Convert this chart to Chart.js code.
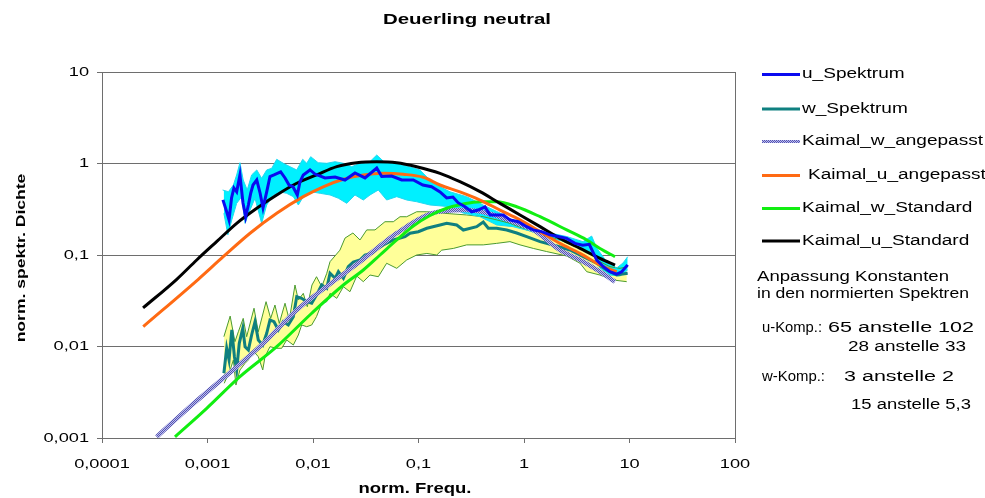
<!DOCTYPE html>
<html>
<head>
<meta charset="utf-8">
<script src="https://cdn.jsdelivr.net/npm/chart.js@4.4.1/dist/chart.umd.min.js"></script>
<style>
  html, body { margin: 0; padding: 0; background: #fff; overflow: hidden; }
  #wrap { width: 985px; height: 498px; }
</style>
</head>
<body>
<div id="wrap"><canvas id="c" width="985" height="498"></canvas></div>
<script>
// ======= DATEN =======
const xTicks = [0.0001, 0.001, 0.01, 0.1, 1, 10, 100];
const yTicks = [0.001, 0.01, 0.1, 1, 10];

// u_Spektrum
const uSpekX = [0.0014, 0.00152, 0.0016, 0.00169, 0.00178, 0.00189, 0.00203, 0.00217, 0.0023, 0.00244, 0.00257, 0.0027, 0.00293, 0.00315, 0.00336, 0.00364, 0.00391, 0.00427, 0.00494, 0.00543, 0.00593, 0.00646, 0.0071, 0.00753, 0.00809, 0.00937, 0.01045, 0.013, 0.0162, 0.0201, 0.025, 0.0311, 0.0402, 0.0448, 0.0557, 0.0693, 0.0893, 0.11, 0.133, 0.16, 0.185, 0.212, 0.237, 0.276, 0.319, 0.366, 0.427, 0.476, 0.637, 0.736, 0.883, 1.06, 1.22, 1.47, 1.76, 2.11, 2.54, 3.04, 3.6, 4.16, 4.89, 5.65, 6.53, 7.57, 8.43, 9.61];
const uSpekY = [0.40, 0.297, 0.242, 0.42, 0.54, 0.49, 0.75, 0.37, 0.262, 0.352, 0.476, 0.582, 0.66, 0.476, 0.327, 0.49, 0.72, 0.75, 0.81, 0.695, 0.582, 0.557, 0.453, 0.632, 0.75, 0.85, 0.767, 0.695, 0.711, 0.66, 0.787, 0.695, 0.893, 0.72, 0.73, 0.66, 0.66, 0.582, 0.557, 0.49, 0.42, 0.43, 0.373, 0.337, 0.297, 0.31, 0.335, 0.274, 0.274, 0.242, 0.231, 0.204, 0.188, 0.18, 0.166, 0.159, 0.152, 0.134, 0.128, 0.131, 0.088, 0.0745, 0.0656, 0.0619, 0.0656, 0.078];

// w_Spektrum
const wSpekX = [0.00143, 0.00152, 0.0016, 0.0017, 0.0018, 0.00189, 0.002, 0.00216, 0.00227, 0.00244, 0.00262, 0.00282, 0.00303, 0.00334, 0.00364, 0.00391, 0.00427, 0.00469, 0.00523, 0.00583, 0.00651, 0.00701, 0.00781, 0.00872, 0.00972, 0.0108, 0.0121, 0.0135, 0.0145, 0.0162, 0.0174, 0.0194, 0.0216, 0.0241, 0.0279, 0.0311, 0.036, 0.0416, 0.0464, 0.0577, 0.0745, 0.0831, 0.0996, 0.12, 0.16, 0.185, 0.23, 0.266, 0.356, 0.411, 0.459, 0.551, 0.686, 0.853, 1.06, 1.42, 2.04, 2.73, 3.65, 4.89, 6.08, 7.56, 9.61];
const wSpekY = [0.0051, 0.00956, 0.00712, 0.01515, 0.00774, 0.00554, 0.01084, 0.0158, 0.00995, 0.00916, 0.01336, 0.01866, 0.01178, 0.01038, 0.01394, 0.01948, 0.01866, 0.01515, 0.01866, 0.01718, 0.02117, 0.035, 0.0336, 0.0309, 0.0297, 0.0365, 0.047, 0.0433, 0.0631, 0.0556, 0.0657, 0.0556, 0.0745, 0.0838, 0.0882, 0.1, 0.1044, 0.1184, 0.1286, 0.1458, 0.1585, 0.1727, 0.1797, 0.1958, 0.2128, 0.222, 0.2128, 0.1876, 0.2038, 0.2295, 0.1958, 0.1958, 0.1876, 0.174, 0.1585, 0.1398, 0.1254, 0.1134, 0.0958, 0.0812, 0.0686, 0.0604, 0.0631];

// Streubereich u (cyan)
const uObenX = [0.00139, 0.00158, 0.00176, 0.00189, 0.00203, 0.00218, 0.00238, 0.00262, 0.00293, 0.00326, 0.00364, 0.00406, 0.00453, 0.00523, 0.00605, 0.00701, 0.00799, 0.00872, 0.00951, 0.0112, 0.0135, 0.0162, 0.0194, 0.0233, 0.0279, 0.0334, 0.0402, 0.0481, 0.0577, 0.0693, 0.0831, 0.103, 0.137, 0.199, 0.286, 0.409, 0.592, 0.853, 1.22, 1.76, 2.54, 3.62, 4.38, 4.89, 6.08, 7.56, 8.68, 9.61];
const uObenY = [0.513, 0.492, 0.582, 0.75, 1.02, 0.66, 0.513, 0.75, 0.85, 0.689, 0.85, 0.886, 1.111, 1.005, 0.923, 0.85, 1.111, 1.005, 1.187, 1.02, 1.005, 1.046, 1.005, 0.923, 1.005, 1.005, 1.238, 1.02, 1.046, 0.963, 0.916, 0.85, 0.612, 0.49, 0.434, 0.352, 0.288, 0.224, 0.188, 0.174, 0.159, 0.14, 0.161, 0.119, 0.0845, 0.0721, 0.0818, 0.0958];
const uUntenX = [0.00143, 0.00156, 0.0017, 0.00189, 0.00211, 0.00227, 0.00253, 0.00282, 0.00326, 0.00364, 0.0042, 0.00487, 0.00563, 0.00651, 0.00726, 0.00809, 0.00972, 0.0117, 0.0145, 0.0174, 0.0209, 0.025, 0.03, 0.0347, 0.0416, 0.0499, 0.0622, 0.0773, 0.0961, 0.1285, 0.199, 0.264, 0.383, 0.551, 0.787, 1.14, 1.76, 2.54, 3.62, 4.51, 5.25, 6.53, 8.13, 9.61];
const uUntenY = [0.286, 0.166, 0.242, 0.367, 0.434, 0.222, 0.31, 0.417, 0.222, 0.352, 0.453, 0.49, 0.472, 0.434, 0.352, 0.434, 0.49, 0.472, 0.453, 0.417, 0.367, 0.453, 0.399, 0.453, 0.513, 0.399, 0.434, 0.399, 0.382, 0.352, 0.337, 0.288, 0.262, 0.213, 0.204, 0.183, 0.152, 0.14, 0.113, 0.105, 0.0721, 0.0604, 0.0589, 0.0686];

// Streubereich w (gelb)
const wObenX = [0.00143, 0.00164, 0.00182, 0.00196, 0.00218, 0.00235, 0.00276, 0.00303, 0.00359, 0.00397, 0.00436, 0.00479, 0.00543, 0.00596, 0.00675, 0.00726, 0.00809, 0.00883, 0.00978, 0.0108, 0.0121, 0.0135, 0.0145, 0.018, 0.0201, 0.0239, 0.0279, 0.0323, 0.0387, 0.0481, 0.0577, 0.0668, 0.0773, 0.0961, 0.12, 0.172, 0.286, 0.411, 0.551, 0.736, 1.06, 1.52, 2.19, 3.1, 4.22, 5.25, 6.53, 8.13, 9.61];
const wObenY = [0.0128, 0.0215, 0.0113, 0.0145, 0.0203, 0.0128, 0.0262, 0.0145, 0.0309, 0.0203, 0.0284, 0.0179, 0.0297, 0.0195, 0.047, 0.0322, 0.0381, 0.0272, 0.047, 0.0579, 0.045, 0.0631, 0.0845, 0.113, 0.153, 0.174, 0.146, 0.188, 0.188, 0.231, 0.231, 0.262, 0.262, 0.297, 0.297, 0.286, 0.274, 0.262, 0.242, 0.222, 0.188, 0.166, 0.146, 0.123, 0.104, 0.0845, 0.0745, 0.0715, 0.0745];
const wUntenX = [0.00144, 0.00164, 0.00176, 0.00186, 0.00203, 0.00227, 0.00244, 0.00276, 0.00303, 0.00334, 0.00351, 0.00391, 0.00453, 0.00505, 0.00563, 0.00651, 0.00726, 0.00781, 0.00872, 0.00972, 0.0108, 0.0121, 0.0135, 0.0145, 0.0168, 0.0194, 0.0224, 0.026, 0.03, 0.0347, 0.0416, 0.0499, 0.0622, 0.0773, 0.0961, 0.12, 0.149, 0.166, 0.214, 0.286, 0.411, 0.551, 0.736, 0.917, 1.225, 1.64, 2.54, 3.4, 3.93, 5.25, 7.02, 9.41];
const wUntenY = [0.00396, 0.00554, 0.00712, 0.00379, 0.00554, 0.00655, 0.00712, 0.00877, 0.00774, 0.00554, 0.00774, 0.00995, 0.00956, 0.00956, 0.01178, 0.01038, 0.01336, 0.01718, 0.01646, 0.01718, 0.0212, 0.0297, 0.0309, 0.0381, 0.0336, 0.045, 0.0397, 0.0589, 0.0511, 0.0604, 0.0579, 0.0812, 0.0715, 0.0882, 0.1, 0.104, 0.1, 0.113, 0.118, 0.129, 0.129, 0.134, 0.14, 0.129, 0.118, 0.109, 0.0975, 0.0812, 0.0657, 0.0604, 0.0533, 0.0511];

// Kaimal-Kurven
const kwAngX = [0.00033, 0.000683, 0.00141, 0.00338, 0.00701, 0.0145, 0.03, 0.0622, 0.1285, 0.266, 0.443, 0.792, 1.22, 2.19, 3.4, 5.25, 7.29];
const kwAngY = [0.00103, 0.0022, 0.00449, 0.0108, 0.025, 0.0482, 0.09, 0.173, 0.281, 0.31, 0.288, 0.23, 0.188, 0.113, 0.0882, 0.0657, 0.0511];
const kuAngX = [0.000246, 0.000818, 0.00141, 0.00253, 0.00453, 0.00809, 0.0125, 0.0194, 0.03, 0.0464, 0.0718, 0.111, 0.16, 0.247, 0.383, 0.592, 0.917, 1.42, 2.19, 3.4, 5.25, 7.56];
const kuAngY = [0.0165, 0.0543, 0.0958, 0.173, 0.286, 0.434, 0.557, 0.672, 0.749, 0.781, 0.762, 0.707, 0.582, 0.49, 0.399, 0.31, 0.242, 0.18, 0.134, 0.104, 0.0777, 0.0657];
const kwStdX = [0.000492, 0.000983, 0.00203, 0.00453, 0.00972, 0.0194, 0.03, 0.0432, 0.0622, 0.0893, 0.1285, 0.185, 0.266, 0.383, 0.551, 0.853, 1.42, 2.54, 3.93, 5.25, 7.29];
const kwStdY = [0.00103, 0.00211, 0.00468, 0.00995, 0.0231, 0.047, 0.0686, 0.1, 0.146, 0.2075, 0.27, 0.324, 0.361, 0.382, 0.382, 0.337, 0.262, 0.188, 0.146, 0.118, 0.0958];
const kuStdX = [0.000245, 0.000511, 0.00079, 0.00122, 0.00189, 0.00293, 0.00453, 0.00701, 0.0108, 0.0168, 0.026, 0.0402, 0.0622, 0.0961, 0.16, 0.247, 0.383, 0.592, 0.917, 1.42, 2.19, 3.4, 5.25, 7.29];
const kuStdY = [0.0264, 0.0543, 0.0882, 0.14, 0.222, 0.324, 0.453, 0.608, 0.749, 0.923, 1.02, 1.046, 1.02, 0.923, 0.781, 0.632, 0.492, 0.367, 0.274, 0.204, 0.152, 0.118, 0.092, 0.0777];

// ======= HILFSFUNKTIONEN =======
const FONT = '"Liberation Sans", Arial, sans-serif';
const punkte = (xs, ys) => xs.map((x, i) => ({ x, y: ys[i] }));
const fmt = v => String(v).replace('.', ',');

// breit gezogene Schrift wie im Excel-Bild; breite = Zielbreite in px (optional)
function schrift(ctx, text, x, y, font, align, sx, gedreht, breite) {
  ctx.save();
  ctx.translate(x, y);
  if (gedreht) ctx.rotate(-Math.PI / 2);
  ctx.font = font;
  if (breite) sx = breite / ctx.measureText(text).width;
  ctx.scale(sx, 1);
  ctx.textAlign = align;
  ctx.textBaseline = 'middle';
  ctx.fillStyle = '#000';
  ctx.fillText(text, 0, 0);
  ctx.restore();
}

// schraffierte Linie fuer Kaimal_w_angepasst
const canvas = document.getElementById('c');
const pc = document.createElement('canvas');
pc.width = 2; pc.height = 2;
const pctx = pc.getContext('2d');
pctx.fillStyle = '#bdbdf0'; pctx.fillRect(0, 0, 2, 2);
pctx.fillStyle = '#5555b0'; pctx.fillRect(0, 0, 1, 1); pctx.fillRect(1, 1, 1, 1);
const lila = canvas.getContext('2d').createPattern(pc, 'repeat');

const linie = (label, data, color, width, glatt) => ({
  label, data, borderColor: color, backgroundColor: color, borderWidth: width,
  pointRadius: 0, fill: false, cubicInterpolationMode: glatt ? 'monotone' : 'default', tension: 0
});

// ======= LEGENDE / BESCHRIFTUNG =======
const legende = [
  { text: 'u_Spektrum', ds: 0, y: 74.5, x: 802 },
  { text: 'w_Spektrum', ds: 5, y: 109, x: 802 },
  { text: 'Kaimal_w_angepasst', ds: 4, y: 141.5, x: 802 },
  { text: 'Kaimal_u_angepasst', ds: 2, y: 175.5, x: 808 },
  { text: 'Kaimal_w_Standard', ds: 3, y: 208.5, x: 802 },
  { text: 'Kaimal_u_Standard', ds: 1, y: 241, x: 802 }
];
const notiz = [
  ['Anpassung Konstanten', 757, 277, 192],
  ['in den normierten Spektren', 757, 294, 212],
  ['u-Komp.:', 762, 328.5, 60],
  ['65 anstelle 102', 828, 328.5, 146],
  ['28 anstelle 33', 848, 347, 118],
  ['w-Komp.:', 762, 377, 63],
  ['3 anstelle 2', 844, 377, 110],
  ['15 anstelle 5,3', 851, 405, 120]
];

const deko = {
  id: 'deko',
  afterDraw(chart) {
    const c = chart.ctx, a = chart.chartArea;
    const xs = chart.scales.x, ys = chart.scales.y;
    c.save();
    c.strokeStyle = '#6e6e6e';
    c.lineWidth = 1;
    c.beginPath();
    c.moveTo(Math.round(a.right) + 0.5, a.top);
    c.lineTo(Math.round(a.right) + 0.5, a.bottom);
    c.stroke();

    yTicks.forEach(v => schrift(c, fmt(v), 89, ys.getPixelForValue(v), '13px ' + FONT, 'right', 1.4));
    xTicks.forEach(v => schrift(c, fmt(v), xs.getPixelForValue(v), 464, '13px ' + FONT, 'center', 1.4));

    schrift(c, 'Deuerling neutral', 467, 20, 'bold 15px ' + FONT, 'center', 1, false, 168);
    schrift(c, 'norm. Frequ.', 415, 489, 'bold 14px ' + FONT, 'center', 1, false, 113);
    schrift(c, 'norm. spektr. Dichte', 21, 258, 'bold 13.5px ' + FONT, 'center', 1.3, true);

    legende.forEach(l => {
      const ds = chart.data.datasets[l.ds];
      c.strokeStyle = ds.borderColor;
      c.lineWidth = 3;
      c.beginPath();
      c.moveTo(762, l.y);
      c.lineTo(800, l.y);
      c.stroke();
      schrift(c, l.text, l.x, l.y, '14px ' + FONT, 'left', 1.36);
    });
    notiz.forEach(([t, x, y, w]) => schrift(c, t, x, y, '14px ' + FONT, 'left', 1, false, w));
    c.restore();
  }
};

// ======= DIAGRAMM =======
new Chart(canvas, {
  type: 'line',
  data: {
    datasets: [
      linie('u_Spektrum', punkte(uSpekX, uSpekY), '#0a0af0', 3, false),
      linie('Kaimal_u_Standard', punkte(kuStdX, kuStdY), '#000000', 3, true),
      linie('Kaimal_u_angepasst', punkte(kuAngX, kuAngY), '#ff6a13', 3, true),
      linie('Kaimal_w_Standard', punkte(kwStdX, kwStdY), '#11ee11', 3, true),
      linie('Kaimal_w_angepasst', punkte(kwAngX, kwAngY), lila, 4.5, true),
      linie('w_Spektrum', punkte(wSpekX, wSpekY), '#0f8080', 3, false),
      Object.assign(linie('u oben', punkte(uObenX, uObenY), '#22d8f0', 1, false), { fill: '+1', backgroundColor: '#00f0ff' }),
      linie('u unten', punkte(uUntenX, uUntenY), '#22d8f0', 1, false),
      Object.assign(linie('w oben', punkte(wObenX, wObenY), '#4a9a30', 1, false), { fill: '+1', backgroundColor: '#ffff99' }),
      linie('w unten', punkte(wUntenX, wUntenY), '#4a9a30', 1, false)
    ]
  },
  options: {
    responsive: false,
    animation: false,
    devicePixelRatio: 1,
    layout: { padding: { left: 96, right: 250, top: 72, bottom: 54 } },
    plugins: {
      legend: { display: false },
      tooltip: { enabled: false },
      filler: { drawTime: 'beforeDatasetsDraw' }
    },
    scales: {
      x: {
        type: 'logarithmic',
        min: 0.0001,
        max: 100,
        afterBuildTicks: s => { s.ticks = xTicks.map(v => ({ value: v })); },
        afterFit: s => { s.height = 6; },
        ticks: { display: false },
        grid: { drawOnChartArea: false, tickLength: 5, color: '#6e6e6e' },
        border: { color: '#6e6e6e' }
      },
      y: {
        type: 'logarithmic',
        min: 0.001,
        max: 10,
        afterBuildTicks: s => { s.ticks = yTicks.map(v => ({ value: v })); },
        afterFit: s => { s.width = 6; },
        ticks: { display: false },
        grid: { tickLength: 5, color: '#6e6e6e' },
        border: { color: '#6e6e6e' }
      }
    }
  },
  plugins: [deko]
});
</script>
</body>
</html>
